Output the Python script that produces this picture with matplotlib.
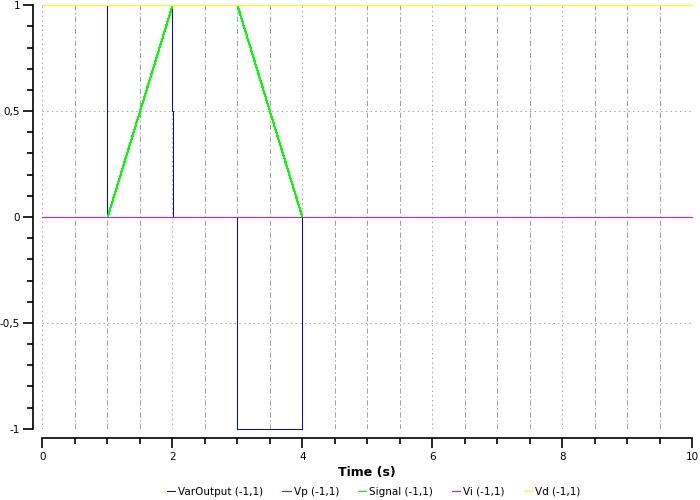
import matplotlib
matplotlib.use("Agg")
import matplotlib.pyplot as plt
from matplotlib.ticker import MultipleLocator, FixedLocator

# series (time in s, value)
varoutput_t = [0, 1, 1, 2, 2, 2.015, 2.015, 3, 3, 4, 4, 10]
varoutput_v = [0, 0, 1, 1, 0.5, 0.5, 0, 0, -1, -1, 0, 0]
vp_t = [0, 10]
vp_v = [0, 0]
signal_t = [0, 1, 2, 3, 4, 10]
signal_v = [0, 0, 1, 1, 0, 0]
vi_t = [0, 10]
vi_v = [0, 0]
vd_t = [0, 10]
vd_v = [1, 1]

labels = ["VarOutput (-1,1)", "Vp (-1,1)", "Signal (-1,1)", "Vi (-1,1)", "Vd (-1,1)"]
colors = ["#0000ff", "#ff0000", "#00ff00", "#ff00ff", "#ffff00"]

y_ticks = [-1, -0.5, 0, 0.5, 1]
y_ticklabels = ["-1", "-0,5", "0", "0,5", "1"]

plt.rcParams['font.family'] = ['DejaVu Sans']

fig = plt.figure(figsize=(7, 5), dpi=100)
ax = fig.add_axes([0.0604, 0.1426, 0.9286, 0.8468])

series = [(varoutput_t, varoutput_v), (vp_t, vp_v), (signal_t, signal_v), (vi_t, vi_v), (vd_t, vd_v)]
for (t, v), lab, c in zip(series, labels, colors):
    # crisp 1px lines like the original plot widget, all snapped so overlaps match
    ax.plot(t, v, color=c, lw=0.72, label=lab, clip_on=False, zorder=3,
            antialiased=False, snap=True)

ax.set_xlim(0, 10)
ax.set_ylim(-1, 1)

ax.xaxis.set_major_locator(MultipleLocator(2))
ax.xaxis.set_minor_locator(MultipleLocator(0.5))
ax.yaxis.set_major_locator(FixedLocator(y_ticks))
ax.set_yticklabels(y_ticklabels)
ax.yaxis.set_minor_locator(MultipleLocator(0.1))

# dotted major grid, dash-dot minor grid on x
ax.grid(which='major', axis='both', color='#a0a0a0', linestyle=(0, (1.3, 3.2)), lw=0.75)
ax.grid(which='minor', axis='x', color='#a0a0a0', linestyle=(0, (5, 2.5, 1.5, 2.5)), lw=0.75)

for s in ['top', 'right']:
    ax.spines[s].set_visible(False)
ax.spines['left'].set_position(('outward', 7))
ax.spines['bottom'].set_position(('outward', 7))
ax.spines['left'].set_bounds(-1, 1)
ax.spines['bottom'].set_bounds(0, 10)
ax.spines['left'].set_linewidth(1.2)
ax.spines['bottom'].set_linewidth(1.2)

ax.tick_params(which='major', length=7, width=1.2, labelsize=7.5, pad=3)
ax.tick_params(which='minor', length=4, width=1.2)
ax.tick_params(axis='y', pad=2)

ax.set_xlabel("Time (s)", fontsize=9, fontweight='bold', labelpad=3)

leg = ax.legend(loc='upper center', bbox_to_anchor=(0.51, -0.115), ncol=5, frameon=False,
                fontsize=7.5, handlelength=0.8, handletextpad=0.3, columnspacing=1.8)

fig.savefig("out.png", dpi=100)
